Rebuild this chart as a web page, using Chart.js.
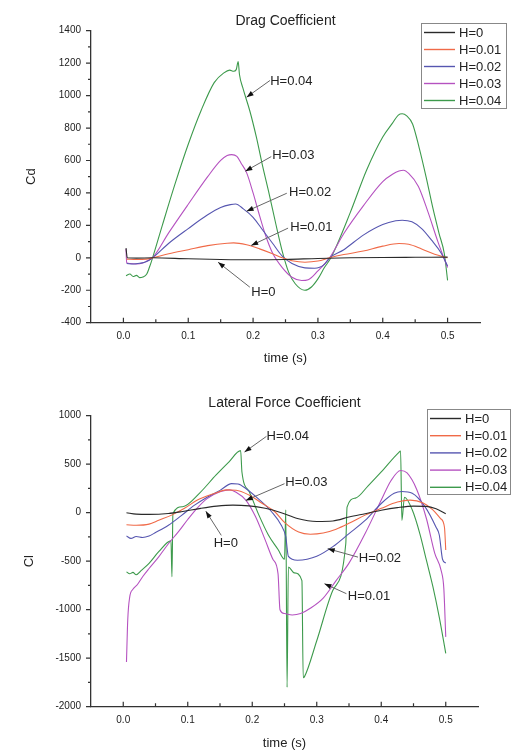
<!DOCTYPE html>
<html>
<head>
<meta charset="utf-8">
<script src="https://cdn.jsdelivr.net/npm/chart.js@4.4.0/dist/chart.umd.min.js"></script>
<style>
  body { margin: 0; background: #fff; }
  canvas { display: block; }
</style>
</head>
<body>
<canvas id="cd-chart" width="529" height="370"></canvas>
<canvas id="cl-chart" width="529" height="383"></canvas>
<script>
// --- series names / colours ---
const seriesNames = ['H=0', 'H=0.01', 'H=0.02', 'H=0.03', 'H=0.04'];
const seriesColors = ['#2a2a2a', '#f06a48', '#5656b0', '#b552c0', '#3d9a4c'];

// --- axis ticks ---
const timeTicks = [0, 0.1, 0.2, 0.3, 0.4, 0.5];
const timeMinorTicks = [0, 0.05, 0.1, 0.15, 0.2, 0.25, 0.3, 0.35, 0.4, 0.45, 0.5];
const cdTicks = [-400, -200, 0, 200, 400, 600, 800, 1000, 1200, 1400];
const cdMinorTicks = [-300, -100, 100, 300, 500, 700, 900, 1100, 1300];
const clTicks = [-2000, -1500, -1000, -500, 0, 500, 1000];
const clMinorTicks = [-1750, -1250, -750, -250, 250, 750];

// --- Drag coefficient (Cd) ---
const cdTime0 = [0.004, 0.006, 0.02, 0.045, 0.1, 0.15, 0.2, 0.25, 0.3, 0.35, 0.4, 0.45, 0.5];
const cdH0 = [60, 0, -2, 0, -6, -10, -12, -10, -4, 0, 2, 3, 4];

const cdTime1 = [0.005, 0.02, 0.035, 0.045, 0.07, 0.1, 0.13, 0.16, 0.17, 0.19, 0.21, 0.23, 0.245, 0.26, 0.28, 0.3, 0.318, 0.34, 0.37, 0.4, 0.425, 0.44, 0.46, 0.48, 0.5];
const cdH001 = [-8, -10, -8, 0, 25, 50, 75, 90, 92, 80, 55, 25, 0, -18, -27, -20, 0, 20, 42, 72, 88, 84, 55, 22, 0];

const cdTime2 = [0.005, 0.015, 0.025, 0.035, 0.045, 0.07, 0.1, 0.13, 0.15, 0.165, 0.173, 0.185, 0.2, 0.215, 0.23, 0.245, 0.26, 0.28, 0.295, 0.31, 0.318, 0.34, 0.37, 0.4, 0.42, 0.43, 0.445, 0.46, 0.475, 0.49, 0.5];
const cdH002 = [-35, -38, -34, -25, 0, 90, 180, 265, 310, 328, 332, 302, 250, 170, 90, 10, -35, -62, -64, -40, 0, 50, 140, 205, 228, 232, 222, 180, 110, 30, -50];

const cdTime3 = [0.004, 0.005, 0.01, 0.02, 0.03, 0.037, 0.045, 0.07, 0.1, 0.13, 0.15, 0.16, 0.167, 0.175, 0.182, 0.19, 0.2, 0.21, 0.22, 0.23, 0.245, 0.26, 0.275, 0.285, 0.3, 0.318, 0.34, 0.37, 0.4, 0.415, 0.425, 0.432, 0.44, 0.455, 0.47, 0.485, 0.5];
const cdH003 = [55, -30, -35, -38, -32, -18, 0, 155, 330, 500, 600, 630, 636, 625, 580, 525, 400, 260, 130, 30, -60, -120, -140, -135, -80, 0, 150, 320, 470, 515, 535, 540, 520, 440, 280, 100, -60];

const cdTime4 = [0.004, 0.01, 0.015, 0.02, 0.025, 0.03, 0.036, 0.04, 0.045, 0.06, 0.08, 0.1, 0.12, 0.14, 0.155, 0.164, 0.17, 0.174, 0.177, 0.179, 0.184, 0.195, 0.205, 0.215, 0.225, 0.235, 0.245, 0.255, 0.265, 0.28, 0.29, 0.3, 0.31, 0.32, 0.35, 0.375, 0.4, 0.415, 0.424, 0.43, 0.437, 0.446, 0.456, 0.467, 0.477, 0.487, 0.495, 0.5];
const cdH004 = [-110, -100, -115, -108, -122, -118, -100, -60, 0, 200, 460, 700, 910, 1080, 1140, 1157, 1150, 1160, 1210, 1130, 1050, 905, 745, 560, 390, 210, 40, -90, -160, -200, -180, -130, -60, 0, 280, 540, 745, 830, 880, 888, 875, 825, 681, 496, 312, 148, 25, -139];

// --- Lateral force coefficient (Cl) ---
const clTime0 = [0.005, 0.02, 0.04, 0.07, 0.09, 0.12, 0.145, 0.17, 0.195, 0.22, 0.245, 0.27, 0.3, 0.325, 0.35, 0.375, 0.4, 0.425, 0.45, 0.47, 0.485, 0.5];
const clH0 = [0, -15, -17, -8, 10, 45, 68, 78, 70, 45, 0, -60, -90, -85, -45, -10, 25, 52, 68, 65, 40, -10];

const clTime1 = [0.005, 0.02, 0.04, 0.055, 0.075, 0.095, 0.115, 0.14, 0.16, 0.175, 0.195, 0.215, 0.235, 0.25, 0.272, 0.29, 0.31, 0.33, 0.35, 0.375, 0.4, 0.425, 0.445, 0.465, 0.48, 0.492, 0.498, 0.5];
const clH001 = [-125, -130, -118, -78, -25, 45, 130, 195, 235, 232, 182, 98, 10, -100, -200, -222, -210, -170, -110, -25, 45, 110, 130, 100, 30, -60, -150, -385];

const clTime2 = [0.005, 0.012, 0.02, 0.03, 0.04, 0.05, 0.07, 0.09, 0.11, 0.13, 0.15, 0.168, 0.178, 0.19, 0.21, 0.23, 0.245, 0.252, 0.256, 0.27, 0.285, 0.3, 0.325, 0.35, 0.375, 0.4, 0.42, 0.432, 0.448, 0.468, 0.485, 0.49, 0.495, 0.5];
const clH002 = [-240, -265, -245, -255, -240, -205, -130, -30, 75, 160, 230, 300, 296, 250, 140, 10, -130, -250, -450, -490, -480, -450, -350, -215, -80, 95, 200, 218, 200, 60, -150, -230, -480, -520];

const clTime3 = [0.005, 0.007, 0.01, 0.015, 0.022, 0.03, 0.04, 0.055, 0.07, 0.085, 0.1, 0.115, 0.13, 0.15, 0.165, 0.175, 0.19, 0.205, 0.22, 0.232, 0.24, 0.243, 0.25, 0.262, 0.275, 0.29, 0.31, 0.33, 0.35, 0.375, 0.4, 0.415, 0.43, 0.44, 0.455, 0.47, 0.483, 0.493, 0.497, 0.5];
const clH003 = [-1540, -1100, -870, -790, -740, -660, -575, -455, -320, -200, -70, 50, 145, 215, 235, 210, 130, -40, -280, -480, -630, -1000, -1040, -1055, -1040, -985, -880, -700, -520, -215, 130, 330, 435, 410, 240, -60, -420, -600, -780, -1280];

const clTime4 = [0.005, 0.01, 0.015, 0.02, 0.028, 0.04, 0.055, 0.074, 0.0755, 0.077, 0.092, 0.118, 0.144, 0.164, 0.182, 0.184, 0.195, 0.21, 0.225, 0.24, 0.25, 0.252, 0.254, 0.256, 0.265, 0.277, 0.279, 0.281, 0.3, 0.325, 0.345, 0.347, 0.36, 0.38, 0.4, 0.427, 0.43, 0.432, 0.436, 0.448, 0.46, 0.47, 0.48, 0.49, 0.5];
const clH004 = [-610, -630, -615, -640, -595, -522, -402, -290, -660, -10, 62, 200, 390, 525, 640, 420, 220, -20, -230, -380, -480, 30, -1800, -560, -620, -700, -1700, -1690, -1320, -800, -320, 58, 150, 280, 420, 620, 635, -80, 160, 30, -220, -490, -760, -1080, -1450];

// --- callout labels (data coords: text centre, line start, arrow tip) ---
const cdCallText = ['H=0.04', 'H=0.03', 'H=0.02', 'H=0.01', 'H=0'];
const cdCallTx = [0.259, 0.262, 0.288, 0.29, 0.216];
const cdCallTy = [1087, 631, 405, 185, -212];
const cdCallSx = [0.226, 0.228, 0.252, 0.254, 0.195];
const cdCallSy = [1093, 624, 398, 183, -181];
const cdCallEx = [0.19, 0.188, 0.19, 0.197, 0.146];
const cdCallEy = [990, 534, 287, 76, -27];

const clCallText = ['H=0.04', 'H=0.03', 'H=0', 'H=0.02', 'H=0.01'];
const clCallTx = [0.255, 0.284, 0.159, 0.398, 0.381];
const clCallTy = [787, 316, -313, -474, -863];
const clCallSx = [0.222, 0.25, 0.152, 0.364, 0.346];
const clCallSy = [787, 299, -234, -458, -835];
const clCallEx = [0.188, 0.19, 0.128, 0.317, 0.312];
const clCallEy = [625, 127, 16, -371, -732];

const FONT = '"Liberation Sans", Arial, sans-serif';

function toPoints(xs, ys) {
    return xs.map((x, i) => ({ x: x, y: ys[i] }));
}

function makeDatasets(times, values) {
    return values.map((vals, i) => ({
        label: seriesNames[i],
        data: toPoints(times[i], vals),
        borderColor: seriesColors[i],
        borderWidth: 1.1,
        pointRadius: 0,
        cubicInterpolationMode: 'monotone',
        fill: false
    }));
}

// tick marks: y outward, x inward (drawn here, labels come from Chart.js)
const tickMarks = {
    id: 'tickMarks',
    afterDraw(chart, args, opts) {
        const ctx = chart.ctx;
        const xs = chart.scales.x, ys = chart.scales.y;
        const area = chart.chartArea;
        ctx.save();
        ctx.strokeStyle = '#333';
        ctx.lineWidth = 1.2;
        ctx.beginPath();
        timeMinorTicks.forEach(v => {
            const px = xs.getPixelForValue(v);
            const len = timeTicks.some(t => Math.abs(t - v) < 1e-9) ? 5 : 3.5;
            ctx.moveTo(px, area.bottom);
            ctx.lineTo(px, area.bottom - len);
        });
        opts.major.forEach(v => {
            const py = ys.getPixelForValue(v);
            ctx.moveTo(area.left, py);
            ctx.lineTo(area.left - 5, py);
        });
        opts.minor.forEach(v => {
            const py = ys.getPixelForValue(v);
            ctx.moveTo(area.left, py);
            ctx.lineTo(area.left - 3, py);
        });
        ctx.stroke();
        ctx.restore();
    }
};

// boxed legend with line samples
const boxLegend = {
    id: 'boxLegend',
    afterDraw(chart, args, opts) {
        const ctx = chart.ctx;
        ctx.save();
        ctx.fillStyle = '#fff';
        ctx.fillRect(opts.x, opts.y, opts.w, opts.h);
        ctx.strokeStyle = '#888';
        ctx.lineWidth = 1;
        ctx.strokeRect(opts.x + 0.5, opts.y + 0.5, opts.w, opts.h);
        ctx.font = '13px ' + FONT;
        ctx.textBaseline = 'middle';
        ctx.textAlign = 'left';
        chart.data.datasets.forEach((ds, i) => {
            const yy = opts.y + opts.first + i * opts.gap;
            ctx.strokeStyle = ds.borderColor;
            ctx.lineWidth = 1.4;
            ctx.beginPath();
            ctx.moveTo(opts.x + 3, yy);
            ctx.lineTo(opts.x + 34, yy);
            ctx.stroke();
            ctx.fillStyle = '#222';
            ctx.fillText(ds.label, opts.x + 38, yy + 0.5);
        });
        ctx.restore();
    }
};

// text labels with arrows pointing at the curves
const callouts = {
    id: 'callouts',
    afterDraw(chart, args, opts) {
        const ctx = chart.ctx;
        const xs = chart.scales.x, ys = chart.scales.y;
        ctx.save();
        ctx.font = '13px ' + FONT;
        ctx.textAlign = 'center';
        ctx.textBaseline = 'middle';
        opts.text.forEach((t, i) => {
            const sx = xs.getPixelForValue(opts.sx[i]), sy = ys.getPixelForValue(opts.sy[i]);
            const ex = xs.getPixelForValue(opts.ex[i]), ey = ys.getPixelForValue(opts.ey[i]);
            ctx.strokeStyle = '#666';
            ctx.lineWidth = 1;
            ctx.beginPath();
            ctx.moveTo(sx, sy);
            ctx.lineTo(ex, ey);
            ctx.stroke();
            const ang = Math.atan2(ey - sy, ex - sx);
            ctx.fillStyle = '#111';
            ctx.beginPath();
            ctx.moveTo(ex, ey);
            ctx.lineTo(ex - 7 * Math.cos(ang) + 2.5 * Math.sin(ang), ey - 7 * Math.sin(ang) - 2.5 * Math.cos(ang));
            ctx.lineTo(ex - 7 * Math.cos(ang) - 2.5 * Math.sin(ang), ey - 7 * Math.sin(ang) + 2.5 * Math.cos(ang));
            ctx.closePath();
            ctx.fill();
            ctx.fillStyle = '#222';
            ctx.fillText(t, xs.getPixelForValue(opts.tx[i]), ys.getPixelForValue(opts.ty[i]));
        });
        ctx.restore();
    }
};

function buildChart(canvasId, cfg) {
    const ctx = document.getElementById(canvasId).getContext('2d');
    return new Chart(ctx, {
        type: 'line',
        data: { datasets: cfg.datasets },
        options: {
            responsive: false,
            animation: false,
            devicePixelRatio: 1,
            layout: { padding: { left: 0, right: cfg.padRight, top: 0, bottom: 0 } },
            scales: {
                x: {
                    type: 'linear',
                    min: -0.05,
                    max: 0.55,
                    afterBuildTicks: s => { s.ticks = timeTicks.map(v => ({ value: v })); },
                    afterFit: s => { s.height = cfg.xHeight; },
                    ticks: {
                        callback: v => Number(v).toFixed(1),
                        padding: 8,
                        maxRotation: 0,
                        color: '#222',
                        font: { family: FONT, size: 10 }
                    },
                    grid: { display: false, drawTicks: false },
                    border: { display: true, color: '#333', width: 1.3 },
                    title: {
                        display: true,
                        text: 'time (s)',
                        color: '#222',
                        font: { family: FONT, size: 13 },
                        padding: { top: 0, bottom: cfg.xTitlePad }
                    }
                },
                y: {
                    type: 'linear',
                    min: cfg.yMin,
                    max: cfg.yMax,
                    afterBuildTicks: s => { s.ticks = cfg.yTicks.map(v => ({ value: v })); },
                    afterFit: s => { s.width = 91; },
                    ticks: {
                        callback: v => String(v),
                        padding: 10,
                        color: '#222',
                        font: { family: FONT, size: 10 }
                    },
                    grid: { display: false, drawTicks: false },
                    border: { display: true, color: '#333', width: 1.3 },
                    title: {
                        display: true,
                        text: cfg.yTitle,
                        color: '#222',
                        font: { family: FONT, size: 13 },
                        padding: { top: cfg.yTitlePad, bottom: 0 }
                    }
                }
            },
            plugins: {
                legend: { display: false },
                tooltip: { enabled: false },
                title: {
                    display: true,
                    fullSize: false,
                    text: cfg.title,
                    color: '#222',
                    font: { family: FONT, size: 14, weight: 'normal' },
                    padding: cfg.titlePad
                },
                tickMarks: { major: cfg.yTicks, minor: cfg.yMinor },
                boxLegend: cfg.legend,
                callouts: cfg.callouts
            }
        },
        plugins: [tickMarks, boxLegend, callouts]
    });
}

buildChart('cd-chart', {
    datasets: makeDatasets([cdTime0, cdTime1, cdTime2, cdTime3, cdTime4], [cdH0, cdH001, cdH002, cdH003, cdH004]),
    title: 'Drag Coefficient',
    titlePad: { top: 12.6, bottom: 1.3 },
    yTitle: 'Cd',
    yTitlePad: 24,
    yMin: -400, yMax: 1400,
    yTicks: cdTicks, yMinor: cdMinorTicks,
    padRight: 49,
    xHeight: 47.3,
    xTitlePad: 4,
    legend: { x: 421, y: 23, w: 85, h: 85, first: 9.5, gap: 17 },
    callouts: { text: cdCallText, tx: cdCallTx, ty: cdCallTy, sx: cdCallSx, sy: cdCallSy, ex: cdCallEx, ey: cdCallEy }
});

buildChart('cl-chart', {
    datasets: makeDatasets([clTime0, clTime1, clTime2, clTime3, clTime4], [clH0, clH001, clH002, clH003, clH004]),
    title: 'Lateral Force Coefficient',
    titlePad: { top: 24.9, bottom: 4 },
    yTitle: 'Cl',
    yTitlePad: 22,
    yMin: -2000, yMax: 1000,
    yTicks: clTicks, yMinor: clMinorTicks,
    padRight: 51,
    xHeight: 46.3,
    xTitlePad: 2,
    legend: { x: 427, y: 39, w: 83, h: 85, first: 9.5, gap: 17.2 },
    callouts: { text: clCallText, tx: clCallTx, ty: clCallTy, sx: clCallSx, sy: clCallSy, ex: clCallEx, ey: clCallEy }
});
</script>
</body>
</html>
